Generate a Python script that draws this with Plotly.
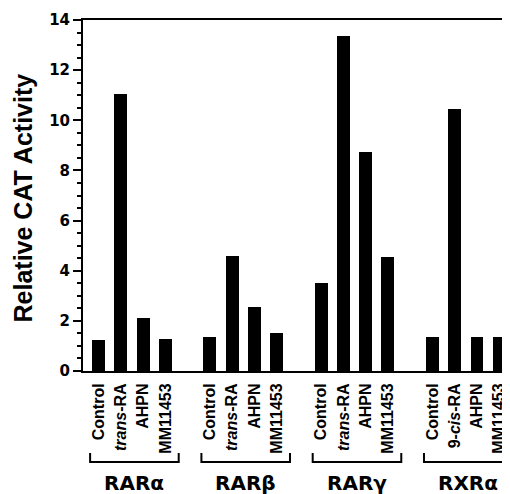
import plotly.graph_objects as go

groups = ["RARα", "RARβ", "RARγ", "RXRα"]
treatments = [
    ["Control", "<i>trans</i>-RA", "AHPN", "MM11453"],
    ["Control", "<i>trans</i>-RA", "AHPN", "MM11453"],
    ["Control", "<i>trans</i>-RA", "AHPN", "MM11453"],
    ["Control", "9-<i>cis</i>-RA", "AHPN", "MM11453"],
]
rar_alpha = [1.24, 11.05, 2.12, 1.27]
rar_beta = [1.37, 4.58, 2.56, 1.53]
rar_gamma = [3.5, 13.35, 8.75, 4.54]
rxr_alpha = [1.37, 10.45, 1.37, 1.37]
values = [rar_alpha, rar_beta, rar_gamma, rxr_alpha]
y_ticks = [0, 2, 4, 6, 8, 10, 12, 14]

GROUP_STRIDE = 5  # 4 bars + 1 empty slot

xs, ys, labels = [], [], []
for gi, (vals, labs) in enumerate(zip(values, treatments)):
    for ti, (v, lab) in enumerate(zip(vals, labs)):
        xs.append(gi * GROUP_STRIDE + ti)
        ys.append(v)
        labels.append(lab)

fig = go.Figure()
fig.add_trace(go.Bar(x=xs, y=ys, width=0.58, marker=dict(color="black", line=dict(width=0)),
                     showlegend=False))

shapes = []
annotations = []
y_h = -0.2593
y_end = -0.2336
for gi, g in enumerate(groups):
    x0 = gi * GROUP_STRIDE - 0.38
    x1 = gi * GROUP_STRIDE + 3 + 0.6
    shapes.append(dict(type="path", xref="x", yref="paper",
                       path=f"M {x0},{y_end} L {x0},{y_h} L {x1},{y_h} L {x1},{y_end}",
                       line=dict(color="black", width=2)))
    annotations.append(dict(text=g, xref="x", yref="paper", x=gi * GROUP_STRIDE + 1.6, y=-0.318,
                            xanchor="center", yanchor="middle", showarrow=False,
                            font=dict(family="DejaVu Sans", size=20, color="black", weight="bold")))

annotations.append(dict(text="Relative CAT Activity", xref="paper", yref="paper",
                        x=(22.5 - 83) / 424, y=(371 - 198) / 351, textangle=-90, showarrow=False,
                        xanchor="center", yanchor="middle",
                        font=dict(family="Liberation Sans", size=25, color="black", weight="bold")))

# page body has an 8px default margin: shift the figure accordingly
fig.update_layout(
    width=502, height=486,
    margin=dict(l=75, r=3, t=12, b=123),
    paper_bgcolor="white", plot_bgcolor="white",
    shapes=shapes, annotations=annotations,
    bargap=0,
)
fig.update_xaxes(
    range=[-0.7, 18.35], tickvals=xs, ticktext=labels, tickangle=-90,
    ticks="", showline=True, linecolor="black", linewidth=2, mirror=True,
    showgrid=False, zeroline=False, automargin=False, ticklabelstandoff=4,
    tickfont=dict(family="Liberation Sans", size=16, color="black", weight="bold"),
)
fig.update_yaxes(
    range=[0, 14], tickvals=y_ticks, ticks="outside", ticklen=8, tickwidth=2, tickcolor="black",
    minor=dict(dtick=0.5, ticks="outside", ticklen=4, tickwidth=1.5, tickcolor="black", showgrid=False),
    showline=True, linecolor="black", linewidth=2, mirror=True,
    showgrid=False, zeroline=False, automargin=False,
    tickfont=dict(family="DejaVu Sans", size=15, color="black", weight="bold"),
)

fig.write_html("out.html")
